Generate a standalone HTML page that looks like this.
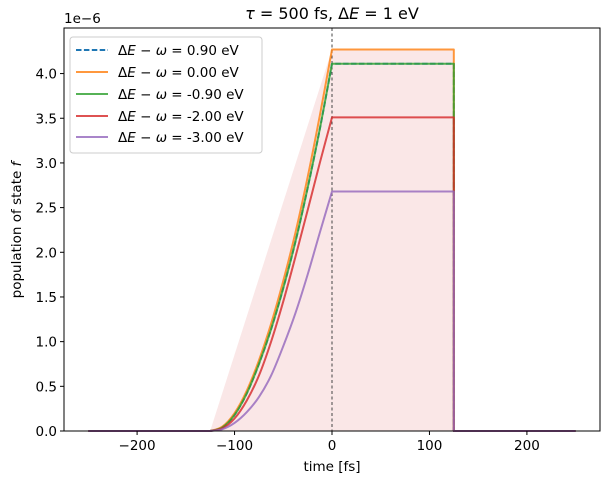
<!DOCTYPE html>
<html><head><meta charset="utf-8"><style>
body{margin:0;background:#fff}
svg text{font-family:"DejaVu Sans","Liberation Sans",sans-serif;fill:#000}
</style></head><body>
<svg id="c" width="606" height="483" xmlns="http://www.w3.org/2000/svg"></svg>
<script>
const riseTimes=[-125,-112.5,-100,-87.5,-75,-62.5,-50,-37.5,-25,-12.5,0];
const plateauEnd=125;
const tStart=-250,tEnd=250;
const seriesLabels=["0.90","0.00","-0.90","-2.00","-3.00"];
const s090=[0,0.04,0.18,0.42,0.75,1.14,1.60,2.12,2.72,3.38,4.11];
const s000=[0,0.05,0.20,0.45,0.79,1.20,1.68,2.22,2.84,3.53,4.27];
const sm090=[0,0.04,0.18,0.42,0.75,1.14,1.60,2.12,2.72,3.38,4.11];
const sm200=[0,0.03,0.14,0.34,0.62,1.00,1.45,1.95,2.47,3.00,3.51];
const sm300=[0,0.02,0.09,0.21,0.38,0.62,0.95,1.32,1.75,2.22,2.68];
const fillTimes=[-125,0,125];
const fillValues=[0,4.27,4.27];
const xTicks=[-200,-100,0,100,200];
const yTicks=[0,0.5,1.0,1.5,2.0,2.5,3.0,3.5,4.0];

const NS="http://www.w3.org/2000/svg";
const svg=document.getElementById('c');
const L=64,R=600,T=28,B=431;
const xMin=-275,xMax=275,yMin=0,yMax=4.51;
const X=t=>L+(t-xMin)/(xMax-xMin)*(R-L);
const Y=v=>B-(v-yMin)/(yMax-yMin)*(B-T);
function el(tag,attrs,parent){const e=document.createElementNS(NS,tag);for(const k in attrs)e.setAttribute(k,attrs[k]);(parent||svg).appendChild(e);return e;}

let fp=`M${X(fillTimes[0])},${Y(0)}`;
fillTimes.forEach((t,i)=>fp+=`L${X(t)},${Y(fillValues[i])}`);
fp+=`L${X(fillTimes[fillTimes.length-1])},${Y(0)}Z`;
const fill=el('path',{d:fp,fill:'#d62728','fill-opacity':0.11,stroke:'none'});



const vl=el('line',{x1:X(0),x2:X(0),y1:T,y2:B,stroke:'#444','stroke-width':1,'stroke-dasharray':'3,2.5'});



function curvePath(vals){
  const pts=riseTimes.map((t,i)=>[X(t),Y(vals[i])]);
  let d=`M${X(tStart)},${Y(0)}L${pts[0][0]},${pts[0][1]}`;
  for(let i=0;i<pts.length-1;i++){
    const p0=pts[Math.max(0,i-1)],p1=pts[i],p2=pts[i+1],p3=pts[Math.min(pts.length-1,i+2)];
    const c1=[p1[0]+(p2[0]-p0[0])/6,p1[1]+(p2[1]-p0[1])/6];
    const c2=[p2[0]-(p3[0]-p1[0])/6,p2[1]-(p3[1]-p1[1])/6];
    d+=`C${c1[0]},${c1[1]} ${c2[0]},${c2[1]} ${p2[0]},${p2[1]}`;
  }
  const top=vals[vals.length-1];
  d+=`L${X(plateauEnd)},${Y(top)}L${X(plateauEnd)},${Y(0)}L${X(tEnd)},${Y(0)}`;
  return d;
}
const series=[[s090,'#1f77b4','5.5,2.4'],[s000,'#ff7f0e',''],[sm090,'#2ca02c',''],[sm200,'#d62728',''],[sm300,'#9467bd','']];
const names=['series-0.90','series-0.00','series-m0.90','series-m2.00','series-m3.00'];
series.forEach((s,k)=>{
  const p=el('path',{d:curvePath(s[0]),fill:'none',stroke:s[1],'stroke-width':2,'stroke-opacity':0.8,'stroke-linejoin':'round'});
  if(s[2])p.setAttribute('stroke-dasharray',s[2]);
  
  
});

const fr=el('rect',{x:L,y:T,width:R-L,height:B-T,fill:'none',stroke:'#000','stroke-width':1});



xTicks.forEach(t=>{
  el('line',{x1:X(t),x2:X(t),y1:B,y2:B+4,stroke:'#000','stroke-width':1});
  const tx=el('text',{x:X(t),y:B+19,'text-anchor':'middle','font-size':13.5});
  tx.textContent=(t<0?'\u2212'+(-t):t);
  
  
});
yTicks.forEach(v=>{
  el('line',{x1:L-4,x2:L,y1:Y(v),y2:Y(v),stroke:'#000','stroke-width':1});
  const tx=el('text',{x:L-7,y:Y(v)+5,'text-anchor':'end','font-size':13.5});
  tx.textContent=v.toFixed(1);
  
  
});
</script>
<svg width="606" height="483" style="position:absolute;left:0;top:0" xmlns="http://www.w3.org/2000/svg">
<text x="64" y="23" font-size="13.5">1e−6</text>
<text x="332" y="19" font-size="16" text-anchor="middle"><tspan font-style="italic">τ</tspan> = 500 fs, Δ<tspan font-style="italic">E</tspan> = 1 eV</text>
<text x="332" y="471" font-size="13.5" text-anchor="middle">time [fs]</text>
<text transform="translate(21,230) rotate(-90)" font-size="13.5" text-anchor="middle">population of state <tspan font-style="italic">f</tspan></text>
<g>
<rect x="70" y="37" width="192" height="116" rx="3" fill="#fff" fill-opacity="0.8" stroke="#ccc"/>
<line x1="76" x2="108" y1="50" y2="50" stroke="#1f77b4" stroke-width="2" stroke-dasharray="5.5,2.4"/>
<line x1="76" x2="108" y1="72" y2="72" stroke="#ff7f0e" stroke-width="2" opacity="0.8"/>
<line x1="76" x2="108" y1="94" y2="94" stroke="#2ca02c" stroke-width="2" opacity="0.8"/>
<line x1="76" x2="108" y1="116" y2="116" stroke="#d62728" stroke-width="2" opacity="0.8"/>
<line x1="76" x2="108" y1="137" y2="137" stroke="#9467bd" stroke-width="2" opacity="0.8"/>
<g font-size="13.5">
<text x="118" y="55">Δ<tspan font-style="italic">E</tspan> − <tspan font-style="italic">ω</tspan> = 0.90 eV</text>
<text x="118" y="77">Δ<tspan font-style="italic">E</tspan> − <tspan font-style="italic">ω</tspan> = 0.00 eV</text>
<text x="118" y="99">Δ<tspan font-style="italic">E</tspan> − <tspan font-style="italic">ω</tspan> = -0.90 eV</text>
<text x="118" y="121">Δ<tspan font-style="italic">E</tspan> − <tspan font-style="italic">ω</tspan> = -2.00 eV</text>
<text x="118" y="142">Δ<tspan font-style="italic">E</tspan> − <tspan font-style="italic">ω</tspan> = -3.00 eV</text>
</g></g>
</svg>
</body></html>
